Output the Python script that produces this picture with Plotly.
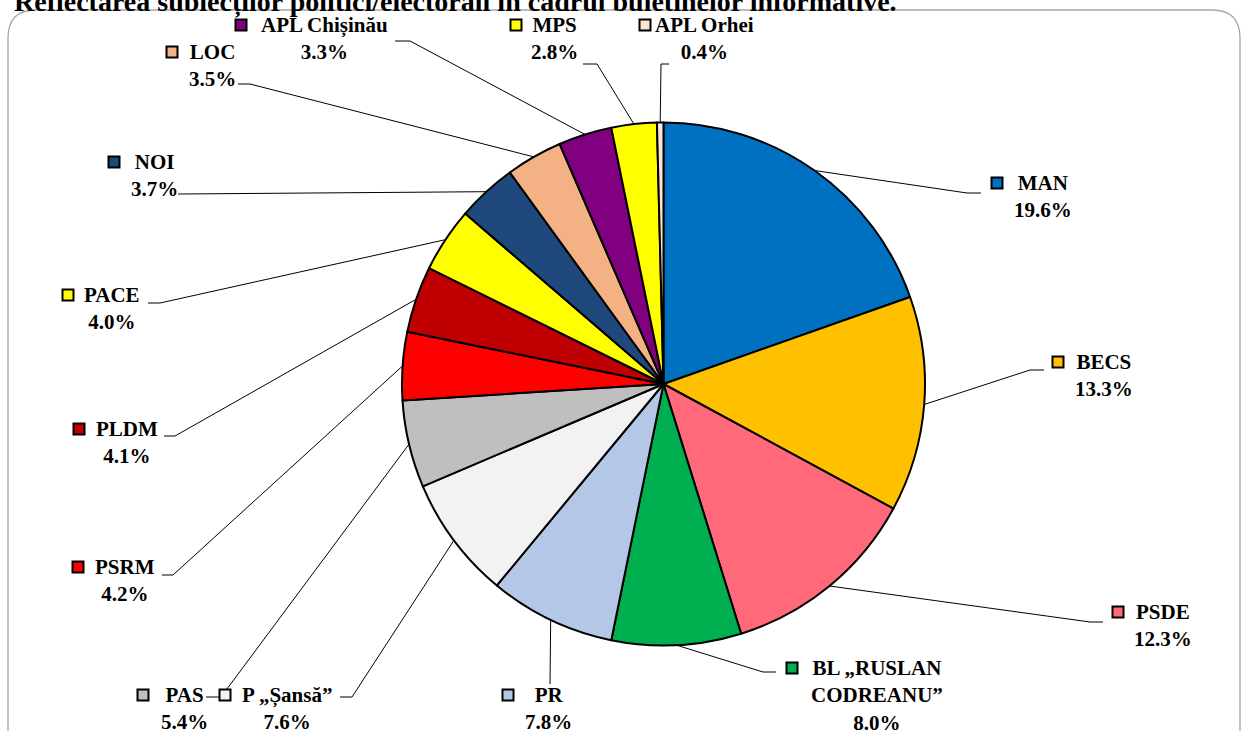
import math
import plotly.graph_objects as go

W, H = 1246, 731

# ---- data ----
labels = ["MAN", "BECS", "PSDE", "BL „RUSLAN<br>CODREANU”", "PR", "P „Șansă”", "PAS",
          "PSRM", "PLDM", "PACE", "NOI", "LOC", "APL Chișinău", "MPS", "APL Orhei"]
values = [19.6, 13.3, 12.3, 8.0, 7.8, 7.6, 5.4, 4.2, 4.1, 4.0, 3.7, 3.5, 3.3, 2.8, 0.4]
colors = ["#0070C0", "#FFC000", "#FF6979", "#00B050", "#B4C7E7", "#F2F2F2", "#BFBFBF",
          "#FF0000", "#C00000", "#FFFF00", "#1F497D", "#F4B183", "#800080", "#FFFF00", "#FBE5D6"]
title_text = "Reflectarea subiecților politici/electorali în cadrul buletinelor informative."

# ---- layout (pixel positions of labels) ----
CX, CY, R = 663.5, 384.0, 261.5
# text centre x, first line y, key square centre x
label_pos = [
    (1043, 183, 997), (1104, 362, 1058), (1163, 612, 1118), (877, 668, 792),
    (548, 695, 508), (287, 695, 225), (184, 695, 143), (125, 567, 78),
    (127, 429, 79), (112, 295, 68), (154, 162, 114), (212, 52, 172),
    (324, 25, 241), (554, 25, 516), (704, 25, 645),
]
# label-side points of leader lines
leader_pts = [
    [(967, 193), (981, 193)], [(1030, 370), (1044, 370)], [(1090, 622), (1103, 622)],
    [(763, 672), (776, 672)], [(550, 684)], [(352, 697), (340, 697)],
    [(221, 697), (206, 697)], [(173, 575), (162, 575)], [(175, 436), (164, 436)],
    [(160, 303), (148, 303)], [(178, 194)], [(250, 84), (238, 84)],
    [(410, 41), (395, 41)], [(597, 64), (583, 64)], [(661, 64), (669, 64)],
]

FONT = "Times New Roman, Liberation Serif, DejaVu Serif, serif"
FS = 21
LINE = FS * 1.3

fig = go.Figure()

# hidden pixel-space axes
fig.add_trace(go.Scatter(x=[0, W], y=[0, H], mode="markers", marker=dict(opacity=0),
                         hoverinfo="skip", showlegend=False))

fig.add_trace(go.Pie(
    labels=[l.replace("<br>", " ") for l in labels], values=values, sort=False,
    direction="clockwise", rotation=0,
    marker=dict(colors=colors, line=dict(color="black", width=2)),
    textinfo="none", hoverinfo="label+percent", showlegend=False,
    domain=dict(x=[(CX - R) / W, (CX + R) / W], y=[1 - (CY + R) / H, 1 - (CY - R) / H]),
))

shapes = []
annotations = []

# frame
fr = 28
x0f, y0f, x1f, y1f = 8, 10, 1240, 760
shapes.append(dict(type="path", xref="x", yref="y", layer="below",
                   path=(f"M {x0f} {y1f} L {x0f} {y0f+fr} Q {x0f} {y0f} {x0f+fr} {y0f} "
                         f"L {x1f-fr} {y0f} Q {x1f} {y0f} {x1f} {y0f+fr} L {x1f} {y1f}"),
                   line=dict(color="#A6A6A6", width=1.3)))

total = sum(values)
cum = 0.0
for i, v in enumerate(values):
    mid = (cum + v / 2) / total * 2 * math.pi
    cum += v
    px = CX + R * math.sin(mid)
    py = CY - R * math.cos(mid)
    pts = [(px, py)] + leader_pts[i]
    path = "M " + " L ".join(f"{a:.1f} {b:.1f}" for a, b in pts)
    shapes.append(dict(type="path", xref="x", yref="y", path=path,
                       line=dict(color="black", width=1)))

for i, v in enumerate(values):
    cx, ly, kx = label_pos[i]
    s = 5.5
    shapes.append(dict(type="rect", xref="x", yref="y", x0=kx - s, x1=kx + s,
                       y0=ly - s, y1=ly + s, fillcolor=colors[i],
                       line=dict(color="black", width=2)))
    lines = labels[i].split("<br>") + [f"{v:.1f}%"]
    n = len(lines)
    txt = "<br>".join(f"<b>{t}</b>" for t in lines)
    annotations.append(dict(x=cx, y=ly + (n - 1) * LINE / 2, xref="x", yref="y",
                            text=txt, showarrow=False, xanchor="center", yanchor="middle",
                            align="center", font=dict(family=FONT, size=FS, color="black")))

annotations.append(dict(x=12, y=20, xref="x", yref="y", text=f"<b>{title_text}</b>",
                        showarrow=False, xanchor="left", yanchor="bottom",
                        font=dict(family=FONT, size=28, color="black")))

fig.update_layout(
    width=W, height=H, autosize=False,
    margin=dict(l=0, r=0, t=0, b=0),
    paper_bgcolor="white", plot_bgcolor="white",
    font=dict(family=FONT),
    xaxis=dict(range=[0, W], visible=False, fixedrange=True),
    yaxis=dict(range=[H, 0], visible=False, fixedrange=True),
    shapes=shapes, annotations=annotations, showlegend=False,
)

fig.write_html("out.html", config={"displayModeBar": False},
               post_script="document.body.style.margin='0';")
